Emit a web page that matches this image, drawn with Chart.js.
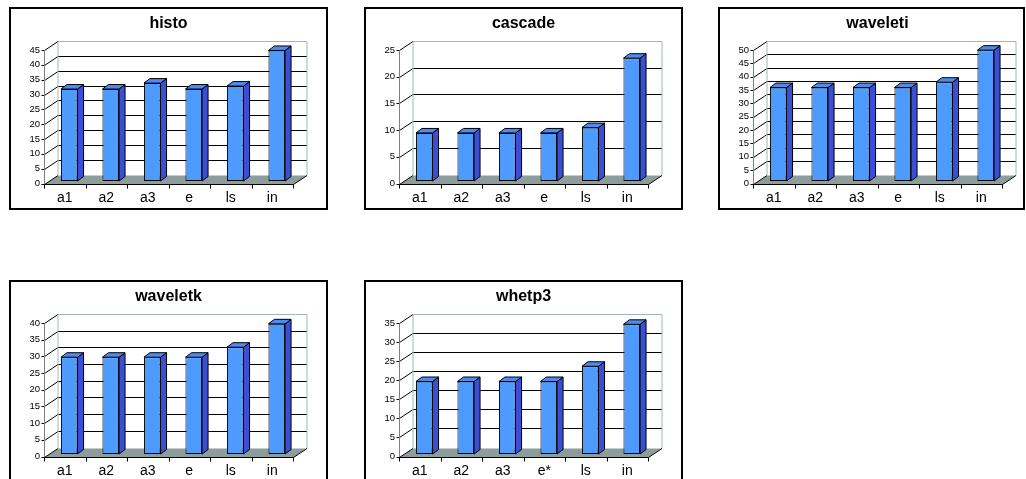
<!DOCTYPE html>
<html>
<head>
<meta charset="utf-8">
<script src="https://cdn.jsdelivr.net/npm/chart.js@4/dist/chart.umd.min.js"></script>
<style>
  html, body { margin: 0; padding: 0; background: #fff; width: 1026px; height: 479px; overflow: hidden; }
  .panel { position: absolute; box-sizing: border-box; border: 2px solid #000; overflow: hidden; background: #fff; }
  .panel canvas { position: absolute; left: 0; top: 0; }
</style>
</head>
<body>
<script>
// Chart titles, categories and values (one small array per series)
const titles = ['histo', 'cascade', 'waveleti', 'waveletk', 'whetp3'];
const categories = ['a1', 'a2', 'a3', 'e', 'ls', 'in'];
const categoriesWhetp3 = ['a1', 'a2', 'a3', 'e*', 'ls', 'in'];
const histoValues = [31, 31, 33, 31, 32, 44];
const cascadeValues = [9, 9, 9, 9, 10, 23];
const waveletiValues = [35, 35, 35, 35, 37, 49];
const waveletkValues = [29, 29, 29, 29, 32, 39];
const whetp3Values = [19, 19, 19, 19, 23, 34];
const yMax = [45, 25, 50, 40, 35];
const yStep = 5;

// Panel placement on the page: [left, top, outer width, outer height]
const panels = [
  [9, 7, 319, 203],
  [364, 7, 319, 203],
  [718, 7, 307, 203],
  [9, 280, 319, 203],
  [364, 280, 319, 203]
];
const CANVAS_W = 315, CANVAS_H = 199;

// Oblique depth of the plot box and of the columns
const DX = 13.5, DY = -9;
const BAR_DX = 6, BAR_DY = -4.5;
const BAR_SHIFT_X = 4.5, BAR_SHIFT_Y = -2.5;

const COLORS = {
  front: '#4d9bff',
  side: '#3b4fd6',
  top: '#4b8cf3',
  floor: '#8c9d9b',
  wall: '#a3b6b6',
  axis: '#7f7f7f'
};

function line(ctx, x1, y1, x2, y2, color) {
  ctx.strokeStyle = color;
  ctx.beginPath();
  ctx.moveTo(x1, y1);
  ctx.lineTo(x2, y2);
  ctx.stroke();
}

// Draws the 3-D box (floor, walls, grid) behind the columns, and the
// top and side faces of every column after the front faces are drawn.
const box3d = {
  id: 'box3d',
  beforeDatasetsDraw(chart) {
    const ctx = chart.ctx;
    const a = chart.chartArea;
    const y = chart.scales.y;
    const b = Math.round(y.getPixelForValue(0)) + 0.5;
    const L = Math.round(a.left) + 0.5;
    const R = Math.round(a.right) + 0.5;
    const top = Math.round(y.getPixelForValue(y.max)) + 0.5;
    ctx.save();
    ctx.lineWidth = 1;

    // floor
    ctx.fillStyle = COLORS.floor;
    ctx.beginPath();
    ctx.moveTo(L, b);
    ctx.lineTo(R, b);
    ctx.lineTo(R + DX, b + DY);
    ctx.lineTo(L + DX, b + DY);
    ctx.closePath();
    ctx.fill();

    // back wall grid and left wall diagonals
    y.ticks.forEach(t => {
      const p = Math.round(y.getPixelForValue(t.value)) + 0.5;
      if (t.value > 0 && t.value < y.max) {
        line(ctx, L + DX, p + DY, R + DX, p + DY, '#000');
      }
      line(ctx, L, p, L + DX, p + DY, '#000');
      line(ctx, L - 3, p, L, p, '#000');
    });

    // back wall frame
    line(ctx, L + DX, top + DY, R + DX, top + DY, COLORS.wall);
    line(ctx, L + DX, top + DY, L + DX, b + DY, COLORS.wall);
    line(ctx, R + DX, top + DY, R + DX, b + DY, COLORS.wall);

    // front vertical axis
    line(ctx, L, top, L, b, COLORS.axis);

    // floor front and right edges
    line(ctx, L, b, R, b, '#000');
    line(ctx, R, b, R + DX, b + DY, '#000');

    // category tick marks under the floor
    const n = chart.data.labels.length;
    for (let i = 0; i <= n; i++) {
      const px = Math.round(a.left + (a.right - a.left) * i / n) + 0.5;
      line(ctx, px, b, px, b + 4, '#000');
    }
    ctx.restore();

    // columns sit a little behind the front plane
    ctx.save();
    ctx.translate(BAR_SHIFT_X, BAR_SHIFT_Y);
  },
  afterDatasetsDraw(chart) {
    const ctx = chart.ctx;
    ctx.lineWidth = 1;
    ctx.strokeStyle = '#000';
    chart.getDatasetMeta(0).data.forEach(bar => {
      const p = bar.getProps(['x', 'y', 'base', 'width'], true);
      const l = p.x - p.width / 2, r = p.x + p.width / 2;
      // side face
      ctx.fillStyle = COLORS.side;
      ctx.beginPath();
      ctx.moveTo(r, p.y);
      ctx.lineTo(r + BAR_DX, p.y + BAR_DY);
      ctx.lineTo(r + BAR_DX, p.base + BAR_DY);
      ctx.lineTo(r, p.base);
      ctx.closePath();
      ctx.fill();
      ctx.stroke();
      // top face
      ctx.fillStyle = COLORS.top;
      ctx.beginPath();
      ctx.moveTo(l, p.y);
      ctx.lineTo(r, p.y);
      ctx.lineTo(r + BAR_DX, p.y + BAR_DY);
      ctx.lineTo(l + BAR_DX, p.y + BAR_DY);
      ctx.closePath();
      ctx.fill();
      ctx.stroke();
    });
    ctx.restore();
  }
};

const seriesList = [histoValues, cascadeValues, waveletiValues, waveletkValues, whetp3Values];
const labelList = [categories, categories, categories, categories, categoriesWhetp3];

seriesList.forEach((values, i) => {
  const [left, top, w, h] = panels[i];
  const div = document.createElement('div');
  div.className = 'panel';
  div.style.left = left + 'px';
  div.style.top = top + 'px';
  div.style.width = w + 'px';
  div.style.height = h + 'px';
  const canvas = document.createElement('canvas');
  canvas.width = CANVAS_W;
  canvas.height = CANVAS_H;
  canvas.style.width = CANVAS_W + 'px';
  canvas.style.height = CANVAS_H + 'px';
  div.appendChild(canvas);
  document.body.appendChild(div);

  new Chart(canvas, {
    type: 'bar',
    data: {
      labels: labelList[i],
      datasets: [{
        data: values,
        backgroundColor: COLORS.front,
        borderColor: '#000',
        borderWidth: 1,
        borderSkipped: false,
        barPercentage: 0.4,
        categoryPercentage: 1
      }]
    },
    options: {
      responsive: false,
      animation: false,
      devicePixelRatio: 1,
      layout: { padding: 0 },
      plugins: {
        legend: { display: false },
        tooltip: { enabled: false },
        title: {
          display: true,
          text: titles[i],
          color: '#000',
          font: { family: 'Liberation Sans', size: 16, weight: 'bold' },
          padding: { top: 5, bottom: 16.8 }
        }
      },
      scales: {
        x: {
          grid: { display: false, drawTicks: false },
          border: { display: false },
          ticks: {
            color: '#000',
            padding: 6,
            font: { family: 'Liberation Sans', size: 14 }
          },
          afterFit(s) { s.height = 24.5; }
        },
        y: {
          min: 0,
          max: yMax[i],
          grid: { display: false, drawTicks: false },
          border: { display: false },
          ticks: {
            stepSize: yStep,
            autoSkip: false,
            color: '#000',
            padding: 4,
            font: { family: 'Liberation Sans', size: 9.5 }
          },
          afterFit(s) { s.width = 33; }
        },
        yr: {
          position: 'right',
          display: true,
          grid: { display: false, drawTicks: false },
          border: { display: false },
          ticks: { display: false },
          afterFit(s) { s.width = 33; }
        }
      }
    },
    plugins: [box3d]
  });
});
</script>
</body>
</html>
